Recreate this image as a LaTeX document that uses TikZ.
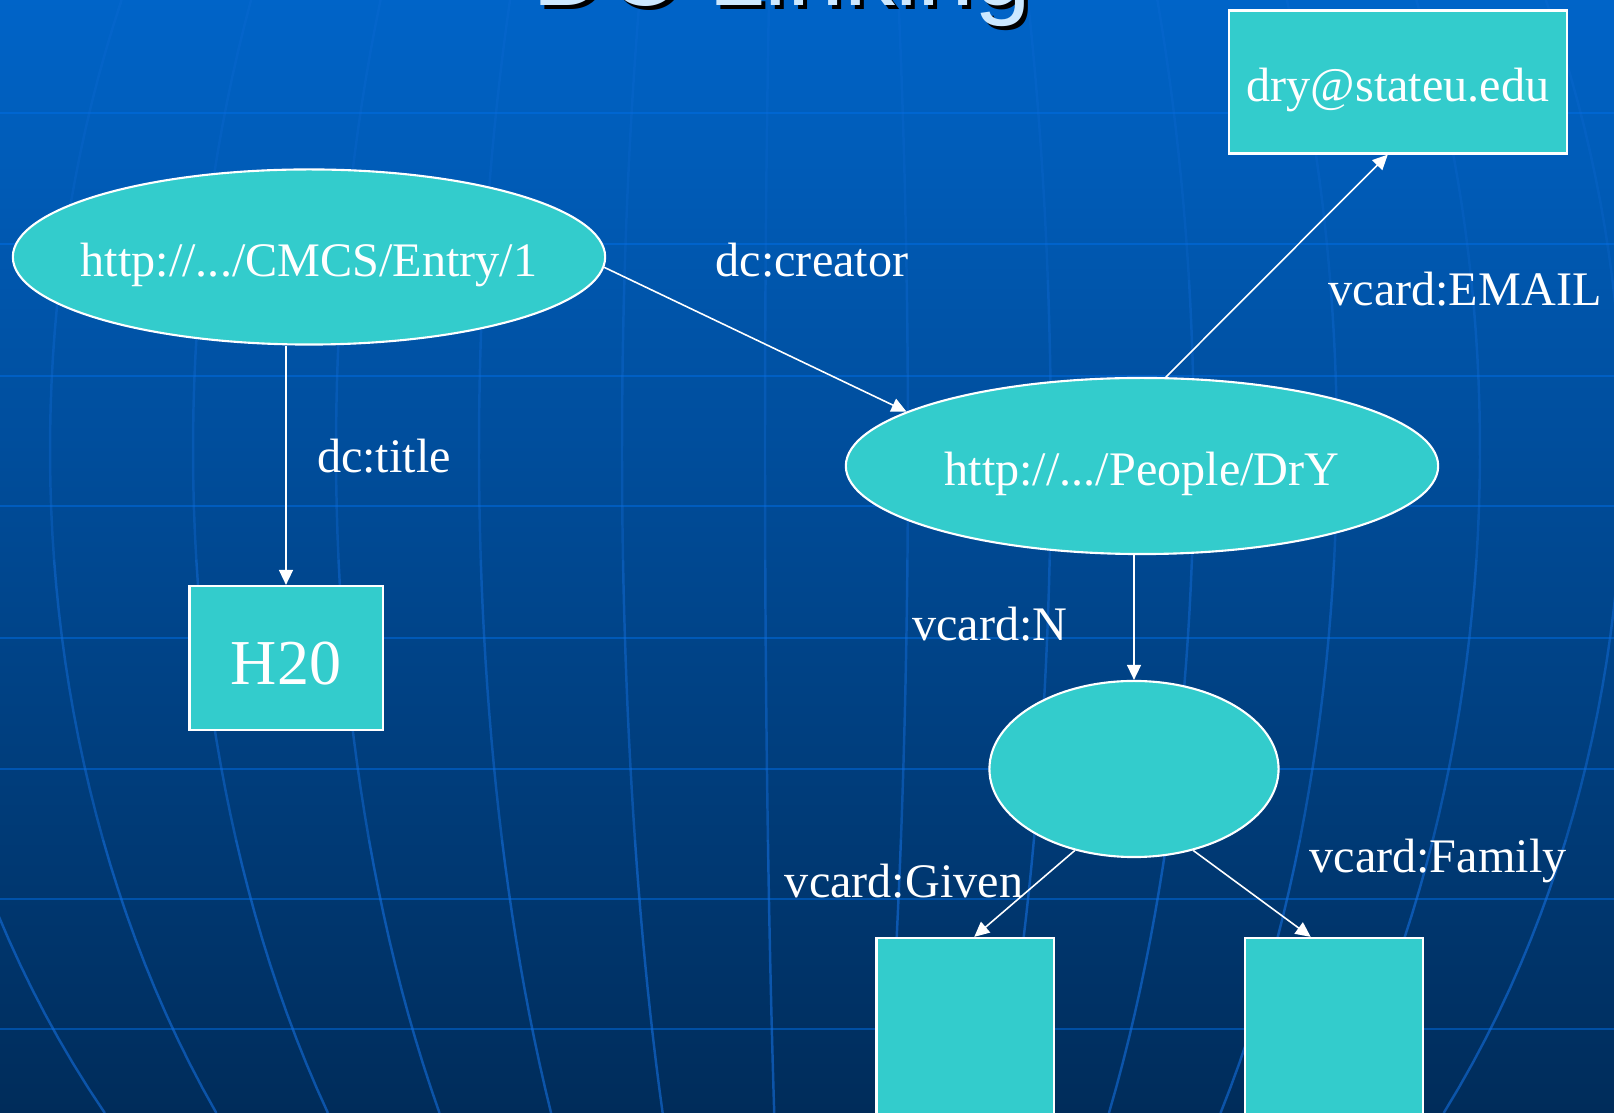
\documentclass[tikz,border=0pt]{standalone}
\usepackage{fontspec}
\setmainfont{Liberation Serif}
\newfontfamily\titlefont{Liberation Sans}
\usetikzlibrary{shapes.geometric,arrows.meta}

\definecolor{slidetop}{RGB}{0,100,200}
\definecolor{slidebottom}{RGB}{0,44,90}
\definecolor{gridblue}{RGB}{20,110,220}
\definecolor{latblue}{RGB}{0,110,230}
\definecolor{nodefill}{RGB}{51,204,204}
\definecolor{titleblue}{RGB}{204,232,255}

\begin{document}
\begin{tikzpicture}[x=0.01cm, y=-0.01cm,
        resource/.style={ellipse, draw=white, line width=0.6pt, fill=nodefill, text=white, inner sep=0pt,
            font=\fontsize{13.7}{16}\selectfont, text height=0.39cm, text depth=0pt},
        literal/.style={rectangle, draw=white, line width=0.6pt, fill=nodefill, text=white, inner sep=0pt,
            font=\fontsize{13.7}{16}\selectfont, text height=0.39cm, text depth=0pt},
        link/.style={draw=white, line width=0.45pt, -{Triangle[length=0.15cm,width=0.14cm]}},
        prop/.style={text=white, font=\fontsize{13.7}{16}\selectfont, anchor=base, inner sep=0pt}]
        \useasboundingbox (0,0) rectangle (1614,1113);
        \clip (0,0) rectangle (1614,1113);

        % slide background
        \shade[top color=slidetop, bottom color=slidebottom] (0,0) rectangle (1614,1113);
        \foreach \y in {113,244,376,506,638,769,899,1029} {
            \draw[latblue, opacity=0.5, line width=0.65pt] (0,\y) -- (1614,\y);
        }
        \foreach \k in {-6,...,6} {
            \foreach \ya/\yb/\op in {0/280/0.22, 280/560/0.35, 560/840/0.48, 840/1113/0.6} {
                \draw[gridblue, opacity=\op, line width=0.7pt] plot[domain=\ya:\yb, samples=12, variable=\t]
                    ({807+(143*\k-42)*sqrt(1-((\t-450)/1060)^2)}, \t);
            }
        }

        % title, cut off at the top
        \node[font={\titlefont\fontsize{29}{34}\selectfont}, text=black, anchor=base] (titleshadow) at (786,10) {DC Linking};
        \node[font={\titlefont\fontsize{29}{34}\selectfont}, text=titleblue, anchor=base] (title) at (782,6) {DC Linking};

        % graph
        \node[resource, minimum width=5.92cm, minimum height=1.75cm] (entry) at (309,257) {\makebox[0pt]{http://.../CMCS/Entry/1}};
        \node[resource, minimum width=5.92cm, minimum height=1.76cm] (people) at (1142,466) {\makebox[0pt]{http://.../People/DrY}};
        \node[resource, minimum width=2.89cm, minimum height=1.76cm] (name) at (1134,769) {};
        \node[literal, minimum width=3.37cm, minimum height=1.43cm] (email) at (1398,82) {dry@stateu.edu};
        \node[literal, minimum width=1.93cm, minimum height=1.44cm, font=\fontsize{18.2}{22}\selectfont, text height=0.52cm] (htwo) at (286,658) {H20};
        \node[literal, minimum width=1.77cm, minimum height=2.62cm] (given) at (965,1069) {};
        \node[literal, minimum width=1.78cm, minimum height=2.62cm] (family) at (1334,1069) {};

        \draw[link] (entry.south -| htwo.north) -- (htwo.north);
        \draw[link] (entry.-2) -- (people.167);
        \draw[link] (people.75) -- (email.-98);
        \draw[link] (people.south -| name.north) -- (name.north);
        \draw[link] (name.234) -- (given.86);
        \draw[link] (name.-54) -- (family.100);

        \node[prop] (creatorlbl) at (812,277) {dc:creator};
        \node[prop] (titlelbl) at (384,473) {dc:title};
        \node[prop] (emaillbl) at (1465,306) {vcard:EMAIL};
        \node[prop] (nlbl) at (990,641) {vcard:N};
        \node[prop] (givenlbl) at (904,898) {vcard:Given};
        \node[prop] (familylbl) at (1438,873) {vcard:Family};
    \end{tikzpicture}
\end{document}
